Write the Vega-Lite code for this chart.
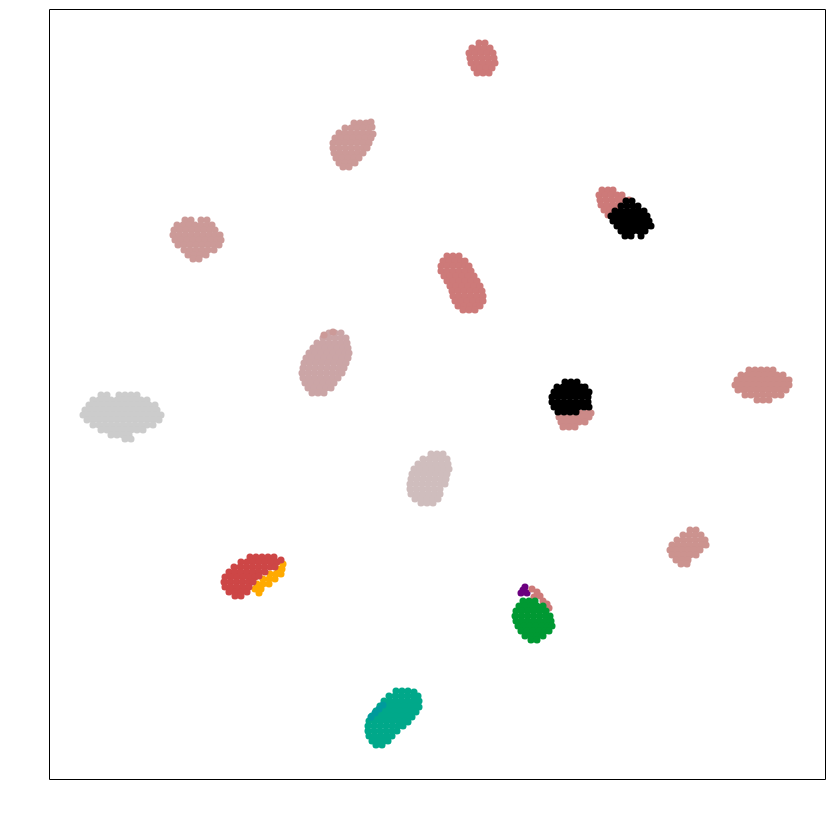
{
"$schema": "https://vega.github.io/schema/vega-lite/v6.json",
"width": 776, "height": 770,
"autosize": {"type": "none"},
"padding": {"left": 49, "top": 9, "right": 8, "bottom": 34},
"background": "white",
"config": {"view": {"stroke": "#000000", "strokeWidth": 1}},
"data": {"values": [
{"x":430,"y":736,"g":"A"},{"x":436,"y":736,"g":"A"},
{"x":423,"y":731,"g":"A"},{"x":429,"y":731,"g":"A"},{"x":435,"y":731,"g":"A"},{"x":441,"y":731,"g":"A"},
{"x":420,"y":726,"g":"A"},{"x":426,"y":726,"g":"A"},{"x":432,"y":726,"g":"A"},{"x":438,"y":726,"g":"A"},{"x":444,"y":726,"g":"A"},
{"x":421,"y":721,"g":"A"},{"x":427,"y":721,"g":"A"},{"x":433,"y":721,"g":"A"},{"x":439,"y":721,"g":"A"},{"x":445,"y":721,"g":"A"},
{"x":422,"y":716,"g":"A"},{"x":428,"y":716,"g":"A"},{"x":434,"y":716,"g":"A"},{"x":440,"y":716,"g":"A"},{"x":446,"y":716,"g":"A"},
{"x":425,"y":711,"g":"A"},{"x":431,"y":711,"g":"A"},{"x":437,"y":711,"g":"A"},{"x":443,"y":711,"g":"A"},
{"x":428,"y":706,"g":"A"},{"x":434,"y":706,"g":"A"},{"x":440,"y":706,"g":"A"},

{"x":305,"y":656,"g":"B"},{"x":311,"y":656,"g":"B"},{"x":317,"y":656,"g":"B"},{"x":322,"y":657,"g":"B"},
{"x":296,"y":651,"g":"B"},{"x":302,"y":651,"g":"B"},{"x":308,"y":651,"g":"B"},{"x":314,"y":651,"g":"B"},{"x":320,"y":651,"g":"B"},{"x":323,"y":652,"g":"B"},
{"x":290,"y":646,"g":"B"},{"x":296,"y":646,"g":"B"},{"x":302,"y":646,"g":"B"},{"x":308,"y":646,"g":"B"},{"x":314,"y":646,"g":"B"},{"x":320,"y":646,"g":"B"},{"x":324,"y":645,"g":"B"},
{"x":286,"y":641,"g":"B"},{"x":292,"y":641,"g":"B"},{"x":298,"y":641,"g":"B"},{"x":304,"y":641,"g":"B"},{"x":310,"y":641,"g":"B"},{"x":316,"y":641,"g":"B"},{"x":322,"y":641,"g":"B"},
{"x":284,"y":636,"g":"B"},{"x":290,"y":636,"g":"B"},{"x":296,"y":636,"g":"B"},{"x":302,"y":636,"g":"B"},{"x":308,"y":636,"g":"B"},{"x":314,"y":636,"g":"B"},{"x":320,"y":636,"g":"B"},
{"x":284,"y":631,"g":"B"},{"x":290,"y":631,"g":"B"},{"x":296,"y":631,"g":"B"},{"x":302,"y":631,"g":"B"},{"x":308,"y":631,"g":"B"},{"x":314,"y":631,"g":"B"},{"x":318,"y":631,"g":"B"},
{"x":285,"y":626,"g":"B"},{"x":291,"y":626,"g":"B"},{"x":297,"y":626,"g":"B"},{"x":303,"y":626,"g":"B"},{"x":309,"y":626,"g":"B"},{"x":314,"y":626,"g":"B"},
{"x":287,"y":621,"g":"B"},{"x":293,"y":621,"g":"B"},{"x":299,"y":621,"g":"B"},{"x":305,"y":621,"g":"B"},{"x":310,"y":621,"g":"B"},
{"x":290,"y":616,"g":"B"},{"x":296,"y":616,"g":"B"},{"x":302,"y":616,"g":"B"},{"x":306,"y":616,"g":"B"},
{"x":294,"y":612,"g":"B"},{"x":300,"y":612,"g":"B"},

{"x":136,"y":559,"g":"B"},{"x":142,"y":559,"g":"B"},{"x":152,"y":559,"g":"B"},{"x":158,"y":559,"g":"B"},
{"x":128,"y":554,"g":"B"},{"x":134,"y":554,"g":"B"},{"x":140,"y":554,"g":"B"},{"x":146,"y":554,"g":"B"},{"x":152,"y":554,"g":"B"},{"x":158,"y":554,"g":"B"},{"x":163,"y":554,"g":"B"},
{"x":125,"y":549,"g":"B"},{"x":131,"y":549,"g":"B"},{"x":137,"y":549,"g":"B"},{"x":143,"y":549,"g":"B"},{"x":149,"y":549,"g":"B"},{"x":155,"y":549,"g":"B"},{"x":161,"y":549,"g":"B"},{"x":166,"y":549,"g":"B"},
{"x":124,"y":544,"g":"B"},{"x":130,"y":544,"g":"B"},{"x":136,"y":544,"g":"B"},{"x":142,"y":544,"g":"B"},{"x":148,"y":544,"g":"B"},{"x":154,"y":544,"g":"B"},{"x":160,"y":544,"g":"B"},{"x":166,"y":544,"g":"B"},{"x":171,"y":544,"g":"B"},
{"x":126,"y":539,"g":"B"},{"x":132,"y":539,"g":"B"},{"x":138,"y":539,"g":"B"},{"x":144,"y":539,"g":"B"},{"x":150,"y":539,"g":"B"},{"x":156,"y":539,"g":"B"},{"x":162,"y":539,"g":"B"},{"x":168,"y":539,"g":"B"},{"x":172,"y":539,"g":"B"},
{"x":129,"y":534,"g":"B"},{"x":135,"y":534,"g":"B"},{"x":141,"y":534,"g":"B"},{"x":147,"y":534,"g":"B"},{"x":153,"y":534,"g":"B"},{"x":159,"y":534,"g":"B"},{"x":165,"y":534,"g":"B"},{"x":170,"y":534,"g":"B"},
{"x":135,"y":529,"g":"B"},{"x":141,"y":529,"g":"B"},{"x":147,"y":529,"g":"B"},{"x":153,"y":529,"g":"B"},{"x":159,"y":529,"g":"B"},{"x":165,"y":529,"g":"B"},
{"x":139,"y":524,"g":"B"},{"x":145,"y":524,"g":"B"},{"x":151,"y":524,"g":"B"},{"x":157,"y":524,"g":"B"},
{"x":144,"y":520,"g":"B"},{"x":150,"y":520,"g":"B"},

{"x":553,"y":589,"g":"A"},{"x":559,"y":589,"g":"A"},{"x":564,"y":589,"g":"A"},
{"x":550,"y":584,"g":"A"},{"x":556,"y":584,"g":"A"},{"x":562,"y":584,"g":"A"},{"x":568,"y":584,"g":"A"},{"x":573,"y":584,"g":"A"},
{"x":551,"y":579,"g":"A"},{"x":557,"y":579,"g":"A"},{"x":563,"y":579,"g":"A"},{"x":569,"y":579,"g":"A"},{"x":575,"y":579,"g":"A"},{"x":580,"y":579,"g":"A"},
{"x":552,"y":574,"g":"A"},{"x":558,"y":574,"g":"A"},{"x":564,"y":574,"g":"A"},{"x":570,"y":574,"g":"A"},
{"x":555,"y":569,"g":"A"},{"x":561,"y":569,"g":"A"},{"x":567,"y":569,"g":"A"},
{"x":559,"y":564,"g":"A"},{"x":565,"y":564,"g":"A"},

{"x":398,"y":523,"g":"A"},{"x":404,"y":523,"g":"A"},{"x":410,"y":523,"g":"A"},
{"x":394,"y":518,"g":"A"},{"x":400,"y":518,"g":"A"},{"x":406,"y":518,"g":"A"},{"x":412,"y":518,"g":"A"},{"x":416,"y":518,"g":"A"},
{"x":392,"y":513,"g":"A"},{"x":398,"y":513,"g":"A"},{"x":404,"y":513,"g":"A"},{"x":410,"y":513,"g":"A"},{"x":416,"y":513,"g":"A"},{"x":420,"y":513,"g":"A"},
{"x":392,"y":508,"g":"A"},{"x":398,"y":508,"g":"A"},{"x":404,"y":508,"g":"A"},{"x":410,"y":508,"g":"A"},{"x":416,"y":508,"g":"A"},{"x":422,"y":508,"g":"A"},
{"x":395,"y":503,"g":"A"},{"x":401,"y":503,"g":"A"},{"x":407,"y":503,"g":"A"},{"x":413,"y":503,"g":"A"},{"x":419,"y":503,"g":"A"},{"x":425,"y":503,"g":"A"},
{"x":398,"y":498,"g":"A"},{"x":404,"y":498,"g":"A"},{"x":410,"y":498,"g":"A"},{"x":416,"y":498,"g":"A"},{"x":422,"y":498,"g":"A"},{"x":428,"y":498,"g":"A"},
{"x":401,"y":493,"g":"A"},{"x":407,"y":493,"g":"A"},{"x":413,"y":493,"g":"A"},{"x":419,"y":493,"g":"A"},{"x":425,"y":493,"g":"A"},{"x":431,"y":493,"g":"A"},
{"x":403,"y":488,"g":"A"},{"x":409,"y":488,"g":"A"},{"x":415,"y":488,"g":"A"},{"x":421,"y":488,"g":"A"},{"x":427,"y":488,"g":"A"},{"x":433,"y":488,"g":"A"},
{"x":404,"y":483,"g":"A"},{"x":410,"y":483,"g":"A"},{"x":416,"y":483,"g":"A"},{"x":422,"y":483,"g":"A"},{"x":428,"y":483,"g":"A"},{"x":434,"y":483,"g":"A"},
{"x":406,"y":478,"g":"A"},{"x":412,"y":478,"g":"A"},{"x":418,"y":478,"g":"A"},{"x":424,"y":478,"g":"A"},{"x":430,"y":478,"g":"A"},{"x":434,"y":478,"g":"A"},
{"x":409,"y":473,"g":"A"},{"x":415,"y":473,"g":"A"},{"x":421,"y":473,"g":"A"},{"x":427,"y":473,"g":"A"},{"x":431,"y":473,"g":"A"},
{"x":414,"y":469,"g":"A"},{"x":420,"y":469,"g":"A"},{"x":426,"y":469,"g":"A"},

{"x":280,"y":446,"g":"C"},{"x":286,"y":446,"g":"C"},{"x":292,"y":446,"g":"C"},
{"x":274,"y":441,"g":"C"},{"x":280,"y":441,"g":"C"},{"x":286,"y":441,"g":"C"},{"x":292,"y":441,"g":"C"},{"x":297,"y":441,"g":"C"},
{"x":268,"y":436,"g":"C"},{"x":274,"y":436,"g":"C"},{"x":280,"y":436,"g":"C"},{"x":286,"y":436,"g":"C"},{"x":292,"y":436,"g":"C"},{"x":298,"y":436,"g":"C"},
{"x":264,"y":431,"g":"C"},{"x":270,"y":431,"g":"C"},{"x":276,"y":431,"g":"C"},{"x":282,"y":431,"g":"C"},{"x":288,"y":431,"g":"C"},{"x":294,"y":431,"g":"C"},{"x":299,"y":431,"g":"C"},
{"x":260,"y":426,"g":"C"},{"x":266,"y":426,"g":"C"},{"x":272,"y":426,"g":"C"},{"x":278,"y":426,"g":"C"},{"x":284,"y":426,"g":"C"},{"x":290,"y":426,"g":"C"},{"x":296,"y":426,"g":"C"},{"x":300,"y":426,"g":"C"},
{"x":257,"y":421,"g":"C"},{"x":263,"y":421,"g":"C"},{"x":269,"y":421,"g":"C"},{"x":275,"y":421,"g":"C"},{"x":281,"y":421,"g":"C"},{"x":287,"y":421,"g":"C"},{"x":293,"y":421,"g":"C"},{"x":299,"y":421,"g":"C"},
{"x":255,"y":416,"g":"C"},{"x":261,"y":416,"g":"C"},{"x":267,"y":416,"g":"C"},{"x":273,"y":416,"g":"C"},{"x":279,"y":416,"g":"C"},{"x":285,"y":416,"g":"C"},{"x":291,"y":416,"g":"C"},{"x":297,"y":416,"g":"C"},
{"x":254,"y":411,"g":"C"},{"x":260,"y":411,"g":"C"},{"x":266,"y":411,"g":"C"},{"x":272,"y":411,"g":"C"},{"x":278,"y":411,"g":"C"},{"x":284,"y":411,"g":"C"},{"x":290,"y":411,"g":"C"},{"x":295,"y":411,"g":"C"},
{"x":253,"y":406,"g":"C"},{"x":259,"y":406,"g":"C"},{"x":265,"y":406,"g":"C"},{"x":271,"y":406,"g":"C"},{"x":277,"y":406,"g":"C"},{"x":283,"y":406,"g":"C"},{"x":289,"y":406,"g":"C"},{"x":293,"y":406,"g":"C"},
{"x":254,"y":401,"g":"C"},{"x":260,"y":401,"g":"C"},{"x":266,"y":401,"g":"C"},{"x":272,"y":401,"g":"C"},{"x":278,"y":401,"g":"C"},{"x":284,"y":401,"g":"C"},{"x":289,"y":401,"g":"C"},
{"x":256,"y":396,"g":"C"},{"x":262,"y":396,"g":"C"},{"x":268,"y":396,"g":"C"},{"x":274,"y":396,"g":"C"},{"x":280,"y":396,"g":"C"},{"x":285,"y":396,"g":"C"},
{"x":259,"y":391,"g":"C"},{"x":265,"y":391,"g":"C"},{"x":271,"y":391,"g":"C"},{"x":277,"y":391,"g":"C"},{"x":282,"y":391,"g":"C"},
{"x":263,"y":386,"g":"C"},{"x":269,"y":386,"g":"C"},{"x":275,"y":386,"g":"C"},
{"x":275,"y":444,"g":"B"},{"x":284,"y":447,"g":"B"},

{"x":700,"y":409,"g":"D"},{"x":706,"y":409,"g":"D"},{"x":712,"y":409,"g":"D"},{"x":718,"y":409,"g":"D"},{"x":724,"y":409,"g":"D"},
{"x":692,"y":404,"g":"D"},{"x":698,"y":404,"g":"D"},{"x":704,"y":404,"g":"D"},{"x":710,"y":404,"g":"D"},{"x":716,"y":404,"g":"D"},{"x":722,"y":404,"g":"D"},{"x":728,"y":404,"g":"D"},{"x":734,"y":404,"g":"D"},
{"x":688,"y":399,"g":"D"},{"x":694,"y":399,"g":"D"},{"x":700,"y":399,"g":"D"},{"x":706,"y":399,"g":"D"},{"x":712,"y":399,"g":"D"},{"x":718,"y":399,"g":"D"},{"x":724,"y":399,"g":"D"},{"x":730,"y":399,"g":"D"},{"x":736,"y":399,"g":"D"},{"x":740,"y":399,"g":"D"},
{"x":686,"y":394,"g":"D"},{"x":692,"y":394,"g":"D"},{"x":698,"y":394,"g":"D"},{"x":704,"y":394,"g":"D"},{"x":710,"y":394,"g":"D"},{"x":716,"y":394,"g":"D"},{"x":722,"y":394,"g":"D"},{"x":728,"y":394,"g":"D"},{"x":734,"y":394,"g":"D"},{"x":740,"y":394,"g":"D"},
{"x":689,"y":389,"g":"D"},{"x":695,"y":389,"g":"D"},{"x":701,"y":389,"g":"D"},{"x":707,"y":389,"g":"D"},{"x":713,"y":389,"g":"D"},{"x":719,"y":389,"g":"D"},{"x":725,"y":389,"g":"D"},{"x":731,"y":389,"g":"D"},{"x":737,"y":389,"g":"D"},
{"x":696,"y":384,"g":"D"},{"x":702,"y":384,"g":"D"},{"x":708,"y":384,"g":"D"},{"x":714,"y":384,"g":"D"},{"x":720,"y":384,"g":"D"},{"x":726,"y":384,"g":"D"},{"x":732,"y":384,"g":"D"},
{"x":708,"y":379,"g":"D"},{"x":714,"y":379,"g":"D"},{"x":720,"y":379,"g":"D"},

{"x":52,"y":384,"g":"gray"},{"x":58,"y":384,"g":"gray"},{"x":70,"y":384,"g":"gray"},{"x":76,"y":384,"g":"gray"},{"x":82,"y":384,"g":"gray"},{"x":88,"y":384,"g":"gray"},
{"x":44,"y":379,"g":"gray"},{"x":50,"y":379,"g":"gray"},{"x":56,"y":379,"g":"gray"},{"x":62,"y":379,"g":"gray"},{"x":68,"y":379,"g":"gray"},{"x":74,"y":379,"g":"gray"},{"x":80,"y":379,"g":"gray"},{"x":86,"y":379,"g":"gray"},{"x":92,"y":379,"g":"gray"},{"x":98,"y":379,"g":"gray"},
{"x":40,"y":374,"g":"gray"},{"x":46,"y":374,"g":"gray"},{"x":52,"y":374,"g":"gray"},{"x":58,"y":374,"g":"gray"},{"x":64,"y":374,"g":"gray"},{"x":70,"y":374,"g":"gray"},{"x":76,"y":374,"g":"gray"},{"x":82,"y":374,"g":"gray"},{"x":88,"y":374,"g":"gray"},{"x":94,"y":374,"g":"gray"},{"x":100,"y":374,"g":"gray"},{"x":106,"y":374,"g":"gray"},
{"x":36,"y":369,"g":"gray"},{"x":42,"y":369,"g":"gray"},{"x":48,"y":369,"g":"gray"},{"x":54,"y":369,"g":"gray"},{"x":60,"y":369,"g":"gray"},{"x":66,"y":369,"g":"gray"},{"x":72,"y":369,"g":"gray"},{"x":78,"y":369,"g":"gray"},{"x":84,"y":369,"g":"gray"},{"x":90,"y":369,"g":"gray"},{"x":96,"y":369,"g":"gray"},{"x":102,"y":369,"g":"gray"},{"x":108,"y":369,"g":"gray"},
{"x":34,"y":364,"g":"gray"},{"x":40,"y":364,"g":"gray"},{"x":46,"y":364,"g":"gray"},{"x":52,"y":364,"g":"gray"},{"x":58,"y":364,"g":"gray"},{"x":64,"y":364,"g":"gray"},{"x":70,"y":364,"g":"gray"},{"x":76,"y":364,"g":"gray"},{"x":82,"y":364,"g":"gray"},{"x":88,"y":364,"g":"gray"},{"x":94,"y":364,"g":"gray"},{"x":100,"y":364,"g":"gray"},{"x":106,"y":364,"g":"gray"},{"x":112,"y":364,"g":"gray"},
{"x":38,"y":359,"g":"gray"},{"x":44,"y":359,"g":"gray"},{"x":50,"y":359,"g":"gray"},{"x":56,"y":359,"g":"gray"},{"x":62,"y":359,"g":"gray"},{"x":68,"y":359,"g":"gray"},{"x":74,"y":359,"g":"gray"},{"x":80,"y":359,"g":"gray"},{"x":86,"y":359,"g":"gray"},{"x":92,"y":359,"g":"gray"},{"x":98,"y":359,"g":"gray"},{"x":104,"y":359,"g":"gray"},{"x":110,"y":359,"g":"gray"},
{"x":44,"y":354,"g":"gray"},{"x":50,"y":354,"g":"gray"},{"x":56,"y":354,"g":"gray"},{"x":62,"y":354,"g":"gray"},{"x":68,"y":354,"g":"gray"},{"x":74,"y":354,"g":"gray"},{"x":80,"y":354,"g":"gray"},{"x":86,"y":354,"g":"gray"},{"x":92,"y":354,"g":"gray"},{"x":98,"y":354,"g":"gray"},{"x":104,"y":354,"g":"gray"},
{"x":52,"y":349,"g":"gray"},{"x":58,"y":349,"g":"gray"},{"x":64,"y":349,"g":"gray"},{"x":70,"y":349,"g":"gray"},{"x":76,"y":349,"g":"gray"},{"x":82,"y":349,"g":"gray"},{"x":88,"y":349,"g":"gray"},{"x":94,"y":349,"g":"gray"},
{"x":62,"y":344,"g":"gray"},{"x":68,"y":344,"g":"gray"},{"x":74,"y":344,"g":"gray"},{"x":80,"y":344,"g":"gray"},
{"x":76,"y":340,"g":"gray"},{"x":82,"y":340,"g":"gray"},

{"x":532,"y":366,"g":"E"},{"x":538,"y":366,"g":"E"},{"x":542,"y":366,"g":"E"},
{"x":510,"y":362,"g":"E"},{"x":516,"y":362,"g":"E"},{"x":522,"y":362,"g":"E"},{"x":528,"y":362,"g":"E"},{"x":534,"y":362,"g":"E"},{"x":540,"y":362,"g":"E"},
{"x":512,"y":357,"g":"E"},{"x":518,"y":357,"g":"E"},{"x":524,"y":357,"g":"E"},{"x":530,"y":357,"g":"E"},{"x":536,"y":357,"g":"E"},
{"x":514,"y":352,"g":"E"},{"x":520,"y":352,"g":"E"},{"x":526,"y":352,"g":"E"},

{"x":382,"y":325,"g":"F"},{"x":388,"y":325,"g":"F"},{"x":394,"y":325,"g":"F"},
{"x":374,"y":320,"g":"F"},{"x":380,"y":320,"g":"F"},{"x":386,"y":320,"g":"F"},{"x":392,"y":320,"g":"F"},{"x":398,"y":320,"g":"F"},
{"x":369,"y":315,"g":"F"},{"x":375,"y":315,"g":"F"},{"x":381,"y":315,"g":"F"},{"x":387,"y":315,"g":"F"},{"x":393,"y":315,"g":"F"},{"x":399,"y":315,"g":"F"},
{"x":365,"y":310,"g":"F"},{"x":371,"y":310,"g":"F"},{"x":377,"y":310,"g":"F"},{"x":383,"y":310,"g":"F"},{"x":389,"y":310,"g":"F"},{"x":395,"y":310,"g":"F"},{"x":400,"y":310,"g":"F"},
{"x":363,"y":305,"g":"F"},{"x":369,"y":305,"g":"F"},{"x":375,"y":305,"g":"F"},{"x":381,"y":305,"g":"F"},{"x":387,"y":305,"g":"F"},{"x":393,"y":305,"g":"F"},{"x":398,"y":305,"g":"F"},
{"x":362,"y":300,"g":"F"},{"x":368,"y":300,"g":"F"},{"x":374,"y":300,"g":"F"},{"x":380,"y":300,"g":"F"},{"x":386,"y":300,"g":"F"},{"x":392,"y":300,"g":"F"},{"x":397,"y":300,"g":"F"},
{"x":361,"y":295,"g":"F"},{"x":367,"y":295,"g":"F"},{"x":373,"y":295,"g":"F"},{"x":379,"y":295,"g":"F"},{"x":385,"y":295,"g":"F"},{"x":391,"y":295,"g":"F"},{"x":396,"y":295,"g":"F"},
{"x":361,"y":290,"g":"F"},{"x":367,"y":290,"g":"F"},{"x":373,"y":290,"g":"F"},{"x":379,"y":290,"g":"F"},{"x":385,"y":290,"g":"F"},{"x":391,"y":290,"g":"F"},
{"x":362,"y":285,"g":"F"},{"x":368,"y":285,"g":"F"},{"x":374,"y":285,"g":"F"},{"x":380,"y":285,"g":"F"},{"x":386,"y":285,"g":"F"},{"x":391,"y":285,"g":"F"},
{"x":366,"y":280,"g":"F"},{"x":372,"y":280,"g":"F"},{"x":378,"y":280,"g":"F"},{"x":384,"y":280,"g":"F"},{"x":389,"y":280,"g":"F"},
{"x":372,"y":276,"g":"F"},{"x":378,"y":276,"g":"F"},{"x":384,"y":276,"g":"F"},

{"x":641,"y":249,"g":"G"},{"x":647,"y":249,"g":"G"},
{"x":634,"y":244,"g":"G"},{"x":640,"y":244,"g":"G"},{"x":646,"y":244,"g":"G"},{"x":652,"y":244,"g":"G"},
{"x":628,"y":239,"g":"G"},{"x":634,"y":239,"g":"G"},{"x":640,"y":239,"g":"G"},{"x":646,"y":239,"g":"G"},{"x":652,"y":239,"g":"G"},{"x":656,"y":239,"g":"G"},
{"x":623,"y":234,"g":"G"},{"x":629,"y":234,"g":"G"},{"x":635,"y":234,"g":"G"},{"x":641,"y":234,"g":"G"},{"x":647,"y":234,"g":"G"},{"x":653,"y":234,"g":"G"},{"x":657,"y":234,"g":"G"},
{"x":621,"y":229,"g":"G"},{"x":627,"y":229,"g":"G"},{"x":633,"y":229,"g":"G"},{"x":639,"y":229,"g":"G"},{"x":645,"y":229,"g":"G"},{"x":651,"y":229,"g":"G"},
{"x":623,"y":224,"g":"G"},{"x":629,"y":224,"g":"G"},{"x":635,"y":224,"g":"G"},{"x":641,"y":224,"g":"G"},{"x":647,"y":224,"g":"G"},
{"x":627,"y":219,"g":"G"},{"x":633,"y":219,"g":"G"},{"x":639,"y":219,"g":"G"},
{"x":632,"y":215,"g":"G"},{"x":638,"y":215,"g":"G"},

{"x":234,"y":215,"g":"orange"},
{"x":229,"y":210,"g":"orange"},{"x":233,"y":210,"g":"orange"},
{"x":221,"y":205,"g":"orange"},{"x":227,"y":205,"g":"orange"},{"x":232,"y":205,"g":"orange"},
{"x":214,"y":200,"g":"orange"},{"x":220,"y":200,"g":"orange"},{"x":226,"y":200,"g":"orange"},
{"x":208,"y":195,"g":"orange"},{"x":214,"y":195,"g":"orange"},{"x":220,"y":195,"g":"orange"},
{"x":206,"y":190,"g":"orange"},{"x":212,"y":190,"g":"orange"},
{"x":210,"y":186,"g":"orange"},

{"x":474,"y":189,"g":"purple"},{"x":478,"y":186,"g":"purple"},{"x":476,"y":192,"g":"purple"},{"x":472,"y":186,"g":"purple"},
{"x":483,"y":190,"g":"A"},{"x":488,"y":187,"g":"A"},{"x":485,"y":182,"g":"A"},{"x":491,"y":183,"g":"A"},{"x":494,"y":178,"g":"A"},{"x":498,"y":175,"g":"A"},{"x":500,"y":171,"g":"A"},

{"x":577,"y":578,"g":"black"},{"x":583,"y":578,"g":"black"},
{"x":572,"y":573,"g":"black"},{"x":578,"y":573,"g":"black"},{"x":584,"y":573,"g":"black"},{"x":589,"y":573,"g":"black"},
{"x":566,"y":568,"g":"black"},{"x":572,"y":568,"g":"black"},{"x":578,"y":568,"g":"black"},{"x":584,"y":568,"g":"black"},{"x":590,"y":568,"g":"black"},{"x":595,"y":568,"g":"black"},
{"x":562,"y":563,"g":"black"},{"x":568,"y":563,"g":"black"},{"x":574,"y":563,"g":"black"},{"x":580,"y":563,"g":"black"},{"x":586,"y":563,"g":"black"},{"x":592,"y":563,"g":"black"},{"x":598,"y":563,"g":"black"},
{"x":564,"y":558,"g":"black"},{"x":570,"y":558,"g":"black"},{"x":576,"y":558,"g":"black"},{"x":582,"y":558,"g":"black"},{"x":588,"y":558,"g":"black"},{"x":594,"y":558,"g":"black"},{"x":600,"y":558,"g":"black"},
{"x":568,"y":553,"g":"black"},{"x":574,"y":553,"g":"black"},{"x":580,"y":553,"g":"black"},{"x":586,"y":553,"g":"black"},{"x":592,"y":553,"g":"black"},{"x":598,"y":553,"g":"black"},{"x":602,"y":553,"g":"black"},
{"x":572,"y":548,"g":"black"},{"x":578,"y":548,"g":"black"},{"x":584,"y":548,"g":"black"},{"x":590,"y":548,"g":"black"},{"x":596,"y":548,"g":"black"},
{"x":576,"y":543,"g":"black"},{"x":582,"y":543,"g":"black"},{"x":592,"y":543,"g":"black"},

{"x":516,"y":397,"g":"black"},{"x":522,"y":397,"g":"black"},{"x":528,"y":397,"g":"black"},
{"x":508,"y":392,"g":"black"},{"x":514,"y":392,"g":"black"},{"x":520,"y":392,"g":"black"},{"x":526,"y":392,"g":"black"},{"x":532,"y":392,"g":"black"},{"x":536,"y":392,"g":"black"},
{"x":505,"y":387,"g":"black"},{"x":511,"y":387,"g":"black"},{"x":517,"y":387,"g":"black"},{"x":523,"y":387,"g":"black"},{"x":529,"y":387,"g":"black"},{"x":535,"y":387,"g":"black"},{"x":540,"y":387,"g":"black"},
{"x":503,"y":382,"g":"black"},{"x":509,"y":382,"g":"black"},{"x":515,"y":382,"g":"black"},{"x":521,"y":382,"g":"black"},{"x":527,"y":382,"g":"black"},{"x":533,"y":382,"g":"black"},{"x":539,"y":382,"g":"black"},
{"x":503,"y":377,"g":"black"},{"x":509,"y":377,"g":"black"},{"x":515,"y":377,"g":"black"},{"x":521,"y":377,"g":"black"},{"x":527,"y":377,"g":"black"},{"x":533,"y":377,"g":"black"},{"x":539,"y":377,"g":"black"},
{"x":505,"y":372,"g":"black"},{"x":511,"y":372,"g":"black"},{"x":517,"y":372,"g":"black"},{"x":523,"y":372,"g":"black"},{"x":529,"y":372,"g":"black"},{"x":535,"y":372,"g":"black"},{"x":540,"y":372,"g":"black"},
{"x":509,"y":367,"g":"black"},{"x":515,"y":367,"g":"black"},{"x":521,"y":367,"g":"black"},{"x":527,"y":367,"g":"black"},

{"x":201,"y":222,"g":"red"},{"x":207,"y":222,"g":"red"},{"x":213,"y":222,"g":"red"},{"x":219,"y":222,"g":"red"},{"x":225,"y":222,"g":"red"},
{"x":192,"y":217,"g":"red"},{"x":198,"y":217,"g":"red"},{"x":204,"y":217,"g":"red"},{"x":210,"y":217,"g":"red"},{"x":216,"y":217,"g":"red"},{"x":222,"y":217,"g":"red"},{"x":228,"y":217,"g":"red"},{"x":232,"y":219,"g":"red"},
{"x":185,"y":212,"g":"red"},{"x":191,"y":212,"g":"red"},{"x":197,"y":212,"g":"red"},{"x":203,"y":212,"g":"red"},{"x":209,"y":212,"g":"red"},{"x":215,"y":212,"g":"red"},{"x":221,"y":212,"g":"red"},{"x":226,"y":212,"g":"red"},
{"x":180,"y":207,"g":"red"},{"x":186,"y":207,"g":"red"},{"x":192,"y":207,"g":"red"},{"x":198,"y":207,"g":"red"},{"x":204,"y":207,"g":"red"},{"x":210,"y":207,"g":"red"},{"x":216,"y":207,"g":"red"},
{"x":176,"y":202,"g":"red"},{"x":182,"y":202,"g":"red"},{"x":188,"y":202,"g":"red"},{"x":194,"y":202,"g":"red"},{"x":200,"y":202,"g":"red"},{"x":206,"y":202,"g":"red"},{"x":210,"y":203,"g":"red"},
{"x":175,"y":197,"g":"red"},{"x":181,"y":197,"g":"red"},{"x":187,"y":197,"g":"red"},{"x":193,"y":197,"g":"red"},{"x":199,"y":197,"g":"red"},{"x":204,"y":197,"g":"red"},
{"x":176,"y":192,"g":"red"},{"x":182,"y":192,"g":"red"},{"x":188,"y":192,"g":"red"},{"x":194,"y":192,"g":"red"},{"x":200,"y":192,"g":"red"},
{"x":180,"y":187,"g":"red"},{"x":186,"y":187,"g":"red"},{"x":192,"y":187,"g":"red"},{"x":198,"y":187,"g":"red"},
{"x":186,"y":183,"g":"red"},{"x":192,"y":183,"g":"red"},

{"x":474,"y":178,"g":"green"},{"x":480,"y":178,"g":"green"},{"x":486,"y":178,"g":"green"},
{"x":470,"y":173,"g":"green"},{"x":476,"y":173,"g":"green"},{"x":482,"y":173,"g":"green"},{"x":488,"y":173,"g":"green"},{"x":494,"y":173,"g":"green"},
{"x":467,"y":168,"g":"green"},{"x":473,"y":168,"g":"green"},{"x":479,"y":168,"g":"green"},{"x":485,"y":168,"g":"green"},{"x":491,"y":168,"g":"green"},{"x":497,"y":168,"g":"green"},
{"x":466,"y":163,"g":"green"},{"x":472,"y":163,"g":"green"},{"x":478,"y":163,"g":"green"},{"x":484,"y":163,"g":"green"},{"x":490,"y":163,"g":"green"},{"x":496,"y":163,"g":"green"},{"x":501,"y":163,"g":"green"},
{"x":467,"y":158,"g":"green"},{"x":473,"y":158,"g":"green"},{"x":479,"y":158,"g":"green"},{"x":485,"y":158,"g":"green"},{"x":491,"y":158,"g":"green"},{"x":497,"y":158,"g":"green"},{"x":502,"y":158,"g":"green"},
{"x":469,"y":153,"g":"green"},{"x":475,"y":153,"g":"green"},{"x":481,"y":153,"g":"green"},{"x":487,"y":153,"g":"green"},{"x":493,"y":153,"g":"green"},{"x":499,"y":153,"g":"green"},{"x":503,"y":153,"g":"green"},
{"x":472,"y":148,"g":"green"},{"x":478,"y":148,"g":"green"},{"x":484,"y":148,"g":"green"},{"x":490,"y":148,"g":"green"},{"x":496,"y":148,"g":"green"},{"x":500,"y":148,"g":"green"},
{"x":476,"y":143,"g":"green"},{"x":482,"y":143,"g":"green"},{"x":488,"y":143,"g":"green"},{"x":494,"y":143,"g":"green"},
{"x":482,"y":139,"g":"green"},{"x":488,"y":139,"g":"green"},

{"x":347,"y":88,"g":"teal"},{"x":353,"y":88,"g":"teal"},{"x":359,"y":88,"g":"teal"},{"x":365,"y":87,"g":"teal"},
{"x":340,"y":83,"g":"teal"},{"x":346,"y":83,"g":"teal"},{"x":352,"y":83,"g":"teal"},{"x":358,"y":83,"g":"teal"},{"x":364,"y":83,"g":"teal"},{"x":369,"y":83,"g":"teal"},
{"x":335,"y":78,"g":"teal"},{"x":341,"y":78,"g":"teal"},{"x":347,"y":78,"g":"teal"},{"x":353,"y":78,"g":"teal"},{"x":359,"y":78,"g":"teal"},{"x":365,"y":78,"g":"teal"},{"x":370,"y":78,"g":"teal"},
{"x":331,"y":73,"g":"teal"},{"x":337,"y":73,"g":"teal"},{"x":343,"y":73,"g":"teal"},{"x":349,"y":73,"g":"teal"},{"x":355,"y":73,"g":"teal"},{"x":361,"y":73,"g":"teal"},{"x":367,"y":73,"g":"teal"},{"x":370,"y":72,"g":"teal"},
{"x":327,"y":68,"g":"teal"},{"x":333,"y":68,"g":"teal"},{"x":339,"y":68,"g":"teal"},{"x":345,"y":68,"g":"teal"},{"x":351,"y":68,"g":"teal"},{"x":357,"y":68,"g":"teal"},{"x":363,"y":68,"g":"teal"},{"x":367,"y":67,"g":"teal"},
{"x":323,"y":63,"g":"teal"},{"x":329,"y":63,"g":"teal"},{"x":335,"y":63,"g":"teal"},{"x":341,"y":63,"g":"teal"},{"x":347,"y":63,"g":"teal"},{"x":353,"y":63,"g":"teal"},{"x":359,"y":63,"g":"teal"},{"x":363,"y":62,"g":"teal"},
{"x":320,"y":58,"g":"teal"},{"x":326,"y":58,"g":"teal"},{"x":332,"y":58,"g":"teal"},{"x":338,"y":58,"g":"teal"},{"x":344,"y":58,"g":"teal"},{"x":350,"y":58,"g":"teal"},{"x":356,"y":58,"g":"teal"},{"x":359,"y":57,"g":"teal"},
{"x":319,"y":53,"g":"teal"},{"x":325,"y":53,"g":"teal"},{"x":331,"y":53,"g":"teal"},{"x":337,"y":53,"g":"teal"},{"x":343,"y":53,"g":"teal"},{"x":349,"y":53,"g":"teal"},{"x":354,"y":53,"g":"teal"},
{"x":319,"y":48,"g":"teal"},{"x":325,"y":48,"g":"teal"},{"x":331,"y":48,"g":"teal"},{"x":337,"y":48,"g":"teal"},{"x":343,"y":48,"g":"teal"},{"x":348,"y":48,"g":"teal"},
{"x":320,"y":43,"g":"teal"},{"x":326,"y":43,"g":"teal"},{"x":332,"y":43,"g":"teal"},{"x":338,"y":43,"g":"teal"},{"x":343,"y":43,"g":"teal"},
{"x":323,"y":38,"g":"teal"},{"x":329,"y":38,"g":"teal"},{"x":335,"y":38,"g":"teal"},{"x":339,"y":38,"g":"teal"},
{"x":327,"y":34,"g":"teal"},{"x":333,"y":34,"g":"teal"},
{"x":322,"y":62,"g":"dteal"},{"x":326,"y":66,"g":"dteal"},{"x":330,"y":70,"g":"dteal"},{"x":334,"y":74,"g":"dteal"}
]},
"mark": {"type": "point", "filled": true, "opacity": 1, "size": 50, "shape": "circle", "strokeWidth": 0},
"encoding": {
  "x": {"field": "x", "type": "quantitative", "scale": {"domain": [0, 776], "nice": false, "zero": false}, "axis": null},
  "y": {"field": "y", "type": "quantitative", "scale": {"domain": [0, 770], "nice": false, "zero": false}, "axis": null},
  "color": {"field": "g", "type": "nominal", "legend": null,
    "scale": {"domain": ["A","B","C","D","E","F","G","gray","black","red","orange","green","purple","teal","dteal"],
              "range": ["#cd7a79","#cc9a98","#cba5a6","#cc8c88","#cc8a88","#cfbdbd","#cc938f","#cccccc","#000000","#cd4646","#ffaa00","#009933","#6b007f","#00a88a","#009a9c"]}}
}
}
